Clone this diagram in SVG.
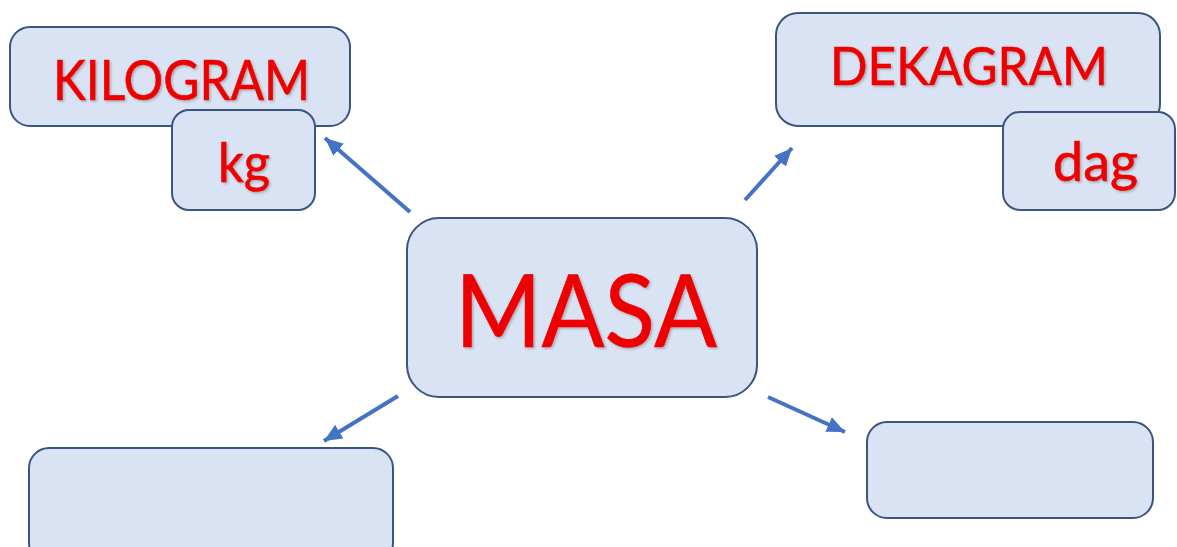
<svg xmlns="http://www.w3.org/2000/svg" width="1177" height="547" viewBox="0 0 1177 547">
<defs>
<style>
.box{fill:#DAE3F3;stroke:#3C5580;stroke-width:2}
.lbl{font-family:Lato,"Open Sans","Liberation Sans",sans-serif;fill:#EE0000;stroke:#EE0000;stroke-width:0.6;filter:url(#sh)}
.conn{stroke:#4472C4;stroke-width:4;fill:none;marker-end:url(#ah)}
</style>
<filter id="sh" x="-10%" y="-10%" width="130%" height="130%">
<feDropShadow dx="1.5" dy="1.5" stdDeviation="1" flood-color="#000" flood-opacity="0.25"/>
</filter>
<marker id="ah" markerUnits="userSpaceOnUse" markerWidth="20" markerHeight="18" refX="18" refY="8" orient="auto">
<path d="M0,0 L18,8 L0,16 Z" fill="#4472C4"/>
</marker>
</defs>
<rect width="1177" height="547" fill="#FFFFFF"/>
<g id="connectors">
<line class="conn" x1="410" y1="212" x2="325" y2="138"/>
<line class="conn" x1="745" y1="200" x2="792" y2="148"/>
<line class="conn" x1="398" y1="396" x2="324" y2="441"/>
<line class="conn" x1="768" y1="397" x2="845" y2="432"/>
</g>
<g id="kilogram">
<rect class="box" x="10" y="27" width="340" height="99" rx="20"/>
<text class="lbl" x="53" y="100" font-size="56" textLength="257" lengthAdjust="spacingAndGlyphs">KILOGRAM</text>
</g>
<g id="kg">
<rect class="box" x="172" y="110" width="143" height="100" rx="17"/>
<text class="lbl" x="218" y="182" font-size="54" textLength="52" lengthAdjust="spacingAndGlyphs">kg</text>
</g>
<g id="dekagram">
<rect class="box" x="776" y="13" width="384" height="113" rx="22"/>
<text class="lbl" x="830" y="85" font-size="53" textLength="278" lengthAdjust="spacingAndGlyphs">DEKAGRAM</text>
</g>
<g id="dag">
<rect class="box" x="1003" y="112" width="172" height="98" rx="17"/>
<text class="lbl" x="1053" y="181" font-size="54" textLength="85" lengthAdjust="spacingAndGlyphs">dag</text>
</g>
<g id="masa">
<rect class="box" x="407" y="218" width="350" height="179" rx="32"/>
<text class="lbl" x="455" y="347" font-size="100" textLength="262" lengthAdjust="spacingAndGlyphs">MASA</text>
</g>
<g id="empty-left">
<rect class="box" x="29" y="448" width="364" height="115" rx="20"/>
</g>
<g id="empty-right">
<rect class="box" x="867" y="422" width="286" height="96" rx="20"/>
</g>
</svg>
